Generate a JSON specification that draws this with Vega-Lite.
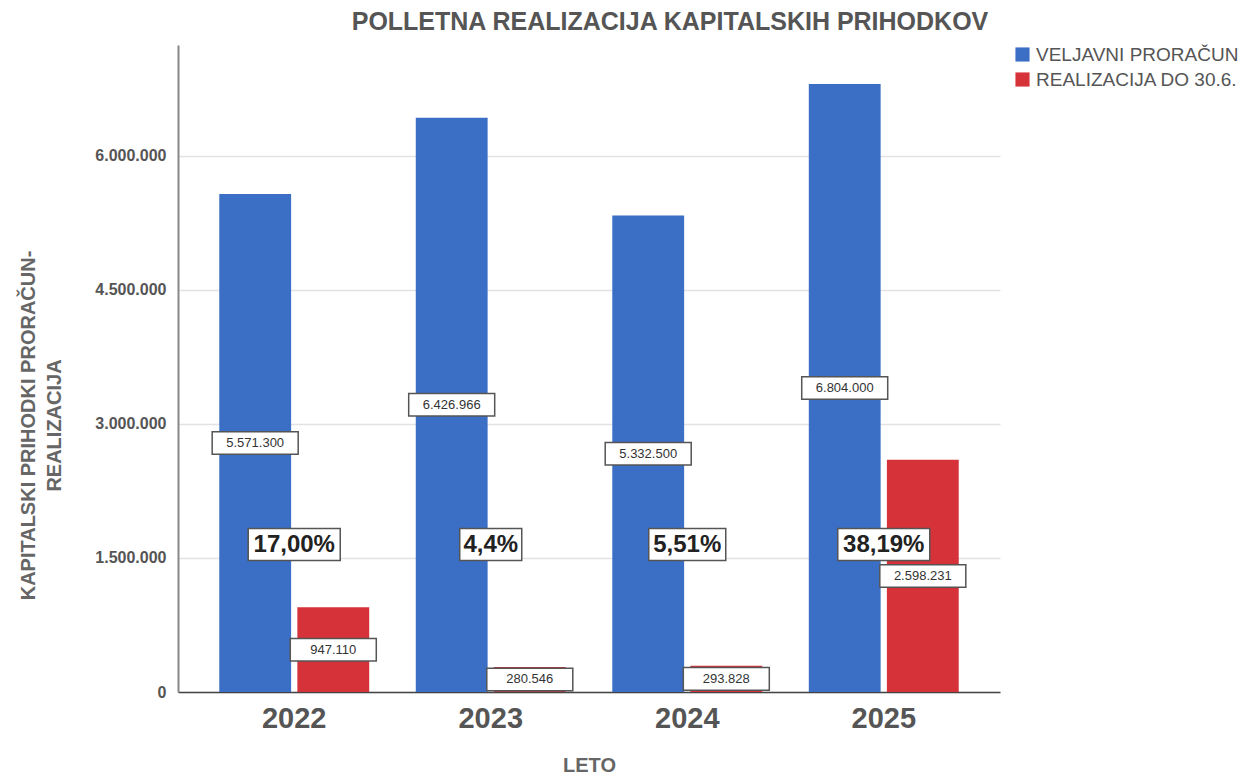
{
  "$schema": "https://vega.github.io/schema/vega-lite/v6.json",
  "autosize": {"type": "none"},
  "padding": {"left": 178, "top": 45, "right": 260, "bottom": 85},
  "width": 822,
  "height": 647,
  "title": {
    "text": "POLLETNA REALIZACIJA KAPITALSKIH PRIHODKOV",
    "font": "Liberation Sans",
    "fontSize": 25,
    "fontWeight": "bold",
    "color": "#555555",
    "anchor": "middle",
    "dx": 81,
    "offset": 10
  },
  "config": {
    "locale": {"number": {"decimal": ",", "thousands": ".", "grouping": [3], "currency": ["", " €"]}},
    "view": {"stroke": null},
    "font": "Liberation Sans"
  },
  "datasets": {
    "bars": [
      {"leto": "2022", "serija": "VELJAVNI PRORAČUN", "znesek": 5571300},
      {"leto": "2022", "serija": "REALIZACIJA DO 30.6.", "znesek": 947110},
      {"leto": "2023", "serija": "VELJAVNI PRORAČUN", "znesek": 6426966},
      {"leto": "2023", "serija": "REALIZACIJA DO 30.6.", "znesek": 280546},
      {"leto": "2024", "serija": "VELJAVNI PRORAČUN", "znesek": 5332500},
      {"leto": "2024", "serija": "REALIZACIJA DO 30.6.", "znesek": 293828},
      {"leto": "2025", "serija": "VELJAVNI PRORAČUN", "znesek": 6804000},
      {"leto": "2025", "serija": "REALIZACIJA DO 30.6.", "znesek": 2598231}
    ],
    "pct": [
      {"leto": "2022", "delez": "17,00%"},
      {"leto": "2023", "delez": "4,4%"},
      {"leto": "2024", "delez": "5,51%"},
      {"leto": "2025", "delez": "38,19%"}
    ]
  },
  "resolve": {"scale": {"y": "independent"}},
  "layer": [
    {
      "data": {"name": "bars"},
      "mark": {"type": "bar"},
      "encoding": {
        "x": {
          "field": "leto", "type": "nominal",
          "scale": {"paddingInner": 0.237, "paddingOuter": 0.21},
          "axis": {
            "title": "LETO", "titleFont": "Liberation Sans", "titleFontSize": 20, "titleFontWeight": "bold", "titleColor": "#666666", "titlePadding": 22,
            "labelAngle": 0, "labelFont": "Liberation Sans", "labelFontSize": 29, "labelFontWeight": "bold", "labelColor": "#555555", "labelPadding": 12,
            "ticks": false, "domainColor": "#444444", "domainWidth": 1.5, "grid": false
          }
        },
        "xOffset": {
          "field": "serija", "type": "nominal",
          "sort": ["VELJAVNI PRORAČUN", "REALIZACIJA DO 30.6."],
          "scale": {"paddingInner": 0.08, "paddingOuter": 0}
        },
        "y": {
          "field": "znesek", "type": "quantitative",
          "scale": {"domain": [0, 7240000], "nice": false},
          "axis": {
            "values": [0, 1500000, 3000000, 4500000, 6000000],
            "format": ",.0f",
            "title": ["KAPITALSKI PRIHODKI PRORAČUN-", "REALIZACIJA"],
            "titleFont": "Liberation Sans", "titleFontSize": 20, "titleFontWeight": "bold", "titleColor": "#666666",
            "titleY": 380, "titlePadding": 30, "titleLineHeight": 26,
            "labelFont": "Liberation Sans", "labelFontSize": 16, "labelFontWeight": "bold", "labelColor": "#555555", "labelPadding": 12,
            "ticks": false, "domainColor": "#888888", "domainWidth": 2,
            "grid": true, "gridColor": "#e2e2e2", "gridWidth": 1.5
          }
        },
        "color": {
          "field": "serija", "type": "nominal",
          "sort": ["VELJAVNI PRORAČUN", "REALIZACIJA DO 30.6."],
          "scale": {"domain": ["VELJAVNI PRORAČUN", "REALIZACIJA DO 30.6."], "range": ["#3b6fc6", "#d63239"]},
          "legend": {
            "title": null, "orient": "none", "legendX": 835, "legendY": 0,
            "symbolType": "square", "symbolSize": 200, "symbolStrokeWidth": 0,
            "labelFont": "Liberation Sans", "labelFontSize": 19, "labelColor": "#555555", "labelLimit": 0, "labelOffset": 4, "rowPadding": 5
          }
        }
      }
    },
    {
      "data": {"name": "bars"},
      "encoding": {
        "x": {"field": "leto", "type": "nominal"},
        "xOffset": {"field": "serija", "type": "nominal", "sort": ["VELJAVNI PRORAČUN", "REALIZACIJA DO 30.6."]},
        "y": {"field": "znesek", "type": "quantitative", "scale": {"domain": [0, 14480000], "nice": false}, "axis": null}
      },
      "layer": [
        {
          "mark": {"type": "point", "shape": "M-1,-0.262H1V0.262H-1Z", "size": 7396, "filled": true, "fill": "#ffffff", "stroke": "#555555", "strokeWidth": 1.5, "opacity": 1}
        },
        {
          "mark": {"type": "text", "font": "Liberation Sans", "fontSize": 13, "color": "#333333", "baseline": "middle", "align": "center"},
          "encoding": {"text": {"field": "znesek", "type": "quantitative", "format": ",.0f"}}
        }
      ]
    },
    {
      "data": {"name": "pct"},
      "encoding": {
        "x": {"field": "leto", "type": "nominal"},
        "y": {"datum": 1650000, "type": "quantitative", "scale": {"domain": [0, 7240000], "nice": false}, "axis": null}
      },
      "layer": [
        {
          "mark": {"type": "point", "size": 10000, "filled": true, "fill": "#ffffff", "stroke": "#555555", "strokeWidth": 1.5, "opacity": 1},
          "encoding": {
            "shape": {
              "field": "delez", "type": "nominal",
              "scale": {
                "domain": ["17,00%", "4,4%", "5,51%", "38,19%"],
                "range": ["M-0.92,-0.32H0.92V0.32H-0.92Z", "M-0.62,-0.32H0.62V0.32H-0.62Z", "M-0.77,-0.32H0.77V0.32H-0.77Z", "M-0.92,-0.32H0.92V0.32H-0.92Z"]
              },
              "legend": null
            }
          }
        },
        {
          "mark": {"type": "text", "font": "Liberation Sans", "fontSize": 24, "fontWeight": "bold", "color": "#222222", "baseline": "middle", "align": "center"},
          "encoding": {"text": {"field": "delez", "type": "nominal"}}
        }
      ]
    }
  ]
}
